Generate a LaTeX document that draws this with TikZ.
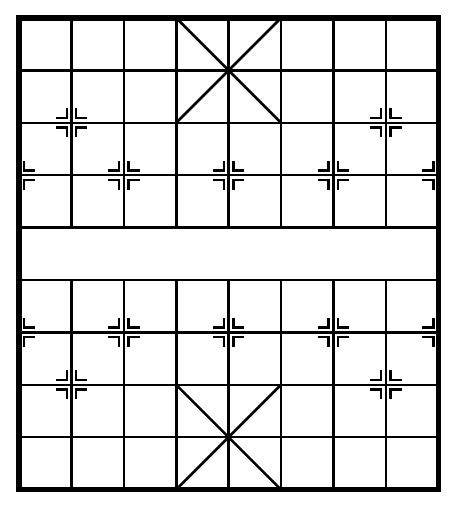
\documentclass[tikz,border=0pt]{standalone}
\usepackage{tikz}

\tikzset{
  gridline/.style={line width=1.4pt},
  borderline/.style={line width=2.8pt, line join=miter},
  stationline/.style={line width=1.3pt}
}

% corner marks round a point; #3 = which sides (x directions)
\newcommand{\stationmark}[3]{%
  \foreach \sx in {#3} {
    \foreach \sy in {1,-1} {
      \draw[stationline] ({#1+\sx*0.3},{#2+\sy*0.09}) -- ({#1+\sx*0.09},{#2+\sy*0.09}) -- ({#1+\sx*0.09},{#2+\sy*0.28});
    }
  }%
}

\begin{document}
\begin{tikzpicture}
    \useasboundingbox (-0.363,-0.313) rectangle (8.340,9.344);

    % ranks
    \foreach \y in {1,...,8} \draw[gridline] (0,\y) -- (8,\y);
    % files, cut at the river
    \foreach \x in {1,...,7} {
        \draw[gridline] (\x,0) -- (\x,4);
        \draw[gridline] (\x,5) -- (\x,9);
    }

    % palaces
    \draw[gridline] (3,9) -- (5,7);
    \draw[gridline] (5,9) -- (3,7);
    \draw[gridline] (3,0) -- (5,2);
    \draw[gridline] (5,0) -- (3,2);

    % cannons
    \stationmark{1}{7}{1,-1}
    \stationmark{7}{7}{1,-1}
    \stationmark{1}{2}{1,-1}
    \stationmark{7}{2}{1,-1}

    % soldiers
    \foreach \y in {6,3} {
        \stationmark{0}{\y}{1}
        \stationmark{2}{\y}{1,-1}
        \stationmark{4}{\y}{1,-1}
        \stationmark{6}{\y}{1,-1}
        \stationmark{8}{\y}{-1}
    }

    \draw[borderline] (0,0) rectangle (8,9);
\end{tikzpicture}
\end{document}
